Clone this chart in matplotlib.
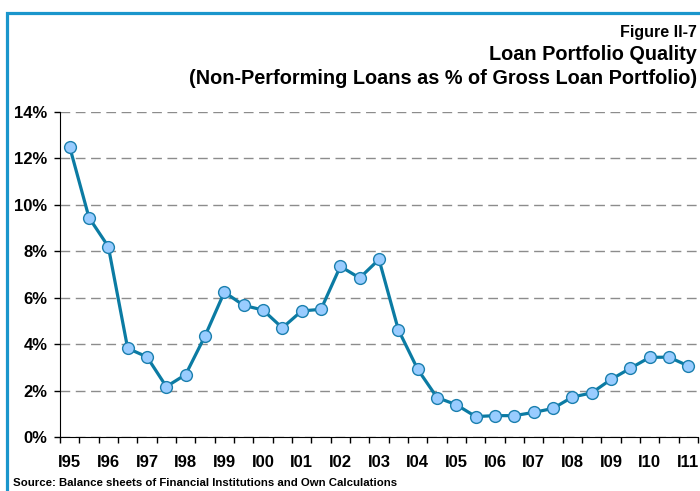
import matplotlib
matplotlib.use("Agg")
import matplotlib.pyplot as plt
from matplotlib.lines import Line2D
import numpy as np

plt.rcParams['font.family'] = ['Liberation Sans', 'DejaVu Sans']

# ── Data: NPL as % of gross loans, half-yearly I95 .. I11 ─────────────────────
years = [f"{y:02d}" for y in list(range(95, 100)) + list(range(0, 12))]
periods = []
for y in years:
    periods += [f"I{y}", f"II{y}"]
periods = periods[:-1]  # ends at I11

npl = [12.5, 9.45, 8.2, 3.82, 3.45, 2.17, 2.69, 4.35, 6.24, 5.67, 5.47,
       4.70, 5.43, 5.50, 7.35, 6.85, 7.65, 4.62, 2.92, 1.70, 1.39, 0.88,
       0.92, 0.92, 1.06, 1.23, 1.72, 1.90, 2.48, 2.96, 3.43, 3.44, 3.06]

yticks = [0, 2, 4, 6, 8, 10, 12, 14]

W, H = 700, 491
fig = plt.figure(figsize=(W / 100, H / 100), dpi=100)
ax = fig.add_axes([60 / W, (H - 437) / H, 638 / W, 325 / H])

x = np.arange(len(periods))
ax.plot(x, npl, color='#0b7ba3', linewidth=2.3, marker='o', markersize=8.5,
        markerfacecolor='#99ccff', markeredgecolor='#1a7fae',
        markeredgewidth=1.0, zorder=3, clip_on=False)

ax.set_xlim(-0.5, len(periods) - 0.5)
ax.set_ylim(0, 14)

# y axis
ax.set_yticks(yticks)
ax.set_yticklabels([f"{v}%" for v in yticks], fontsize=12, fontweight='bold')
ax.tick_params(axis='y', length=4, width=1, pad=5, colors='black')
ax.yaxis.grid(True, color='#8c8c8c', linestyle=(0, (7, 4)), linewidth=1)
ax.set_axisbelow(True)

# x axis: ticks at category boundaries, labels on first halves
ax.set_xticks(np.arange(-0.5, len(periods), 1.0))
ax.set_xticklabels([])
ax.tick_params(axis='x', which='major', length=4.5, width=1, direction='out')
lab_pos = [i for i, p in enumerate(periods) if not p.startswith('II')]
ax.set_xticks(lab_pos, minor=True)
ax.set_xticklabels([periods[i] for i in lab_pos], minor=True,
                   fontsize=12, fontweight='bold')
ax.tick_params(axis='x', which='minor', length=0, pad=13)

for s in ['top', 'right']:
    ax.spines[s].set_visible(False)
ax.spines['left'].set_color('black')
ax.spines['bottom'].set_color('black')

# titles
fig.text(697 / W, 1 - 32 / H, "Figure II-7", ha='right', va='center',
         fontsize=11.5, fontweight='bold')
fig.text(697 / W, 1 - 55 / H, "Loan Portfolio Quality", ha='right', va='center',
         fontsize=14.3, fontweight='bold')
fig.text(697 / W, 1 - 79 / H,
         "(Non-Performing Loans as % of Gross Loan Portfolio)",
         ha='right', va='center', fontsize=14.3, fontweight='bold')
fig.text(13 / W, 1 - 483 / H,
         "Source: Balance sheets of Financial Institutions and Own Calculations",
         ha='left', va='center', fontsize=8.2, fontweight='bold')

# blue frame
fig.add_artist(Line2D([6.5 / W, 6.5 / W, 1.0], [0.0, 1 - 12.5 / H, 1 - 12.5 / H],
                      transform=fig.transFigure, color='#1a96cc', linewidth=2.3,
                      solid_joinstyle='miter'))

fig.savefig("out.png", dpi=100)
